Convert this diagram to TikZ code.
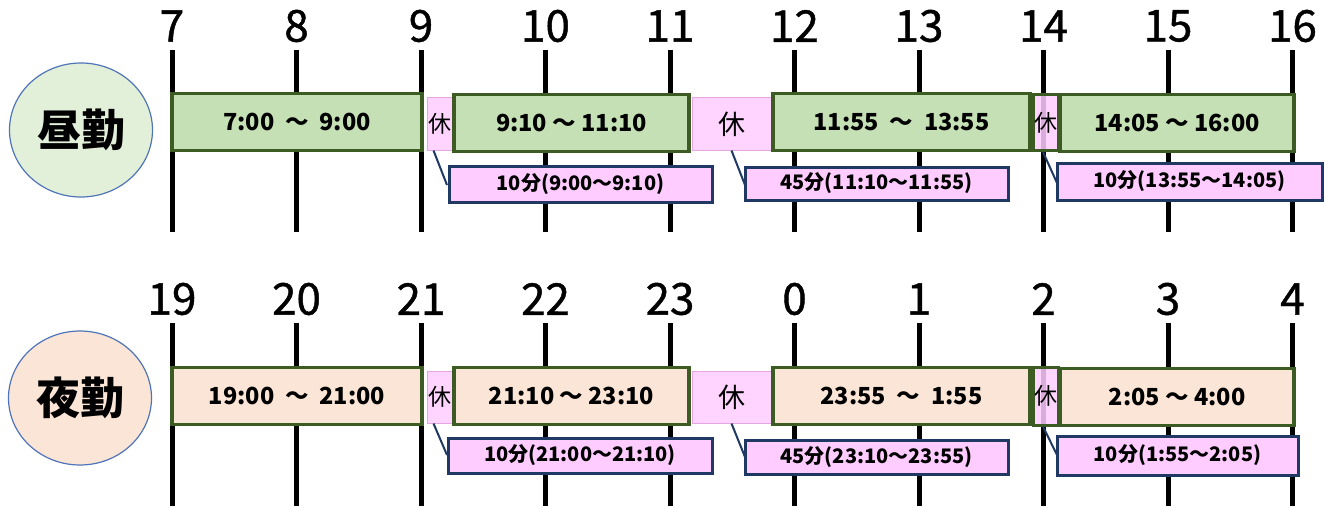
\documentclass[tikz,border=0pt]{standalone}
\usepackage{fontspec}
\setmainfont{Noto Sans CJK JP}
\newfontfamily\hourfont[FakeBold=1]{Noto Sans CJK JP}
\usetikzlibrary{shapes.geometric}

\definecolor{dayfill}{HTML}{C5E0B4}
\definecolor{nightfill}{HTML}{FBE5D6}
\definecolor{dayround}{HTML}{E2F0D9}
\definecolor{roundline}{HTML}{4F74B8}
\definecolor{shiftline}{HTML}{3D5C24}
\definecolor{restpink}{HTML}{FFCCFF}
\definecolor{restline}{HTML}{E6A6E6}
\definecolor{navy}{HTML}{1F3864}

\tikzset{
  hour/.style={font=\hourfont\fontsize{44}{44}\selectfont, inner sep=0},
  tick/.style={line width=5pt},
  shiftname/.style={ellipse, draw=roundline, line width=1.2pt, minimum width=143, minimum height=134,
    font=\fontsize{44}{44}\selectfont\bfseries},
  work/.style={draw=shiftline, line width=3.5pt, inner sep=0, minimum height=57,
    font=\fontsize{23.5}{24}\selectfont\bfseries},
  rest/.style={fill=restpink, fill opacity=0.85, text opacity=1, draw=restline, line width=1pt,
    inner sep=0, minimum height=52, font=\fontsize{23}{23}\selectfont},
  note/.style={fill=restpink, draw=navy, line width=3pt, inner sep=0,
    font=\fontsize{20}{20}\selectfont\bfseries},
  pointer/.style={draw=navy, line width=2pt}
}

\begin{document}
\begin{tikzpicture}[x=1pt, y=-1pt]
    \useasboundingbox (0,0) rectangle (1324,508);

    % hour lines
    \foreach \h [count=\i from 0] in {7,...,16} {
        \draw[tick] ({172+124.5*\i},50) -- ({172+124.5*\i},232);
        \node[hour] (d\h) at ({172+124.5*\i},26) {\h};
    }
    \foreach \h [count=\i from 0] in {19,20,21,22,23,0,1,2,3,4} {
        \draw[tick] ({172+124.5*\i},323) -- ({172+124.5*\i},506);
        \node[hour] (n\h) at ({172+124.5*\i},299) {\h};
    }

    % day shift
    \node[shiftname, fill=dayround] (day) at (81,130) {昼勤};
    \node[work, fill=dayfill, minimum width=250] (ds1) at (297,122) {7:00\ \ ～\ \ 9:00};
    \node[rest, minimum width=25] (db1) at (439.5,124) {休};
    \node[work, fill=dayfill, minimum width=235] (ds2) at (571.5,123) {9:10 ～ 11:10};
    \node[rest, minimum width=79, font=\fontsize{27}{27}\selectfont] (db2) at (731.5,124) {休};
    \node[work, fill=dayfill, minimum width=257] (ds3) at (901.5,122) {11:55\ \ ～\ \ 13:55};
    \node[rest, draw=shiftline, line width=3pt, minimum width=25, minimum height=56] (db3) at (1046,122.5) {休};
    \node[work, fill=dayfill, minimum width=234] (ds4) at (1177,123) {14:05 ～ 16:00};

    % day breaks
    \draw[pointer] ([xshift=-6pt]db1.south) -- (447,185);
    \draw[pointer] (db2.south) -- (745,185);
    \draw[pointer] ([xshift=-3pt]db3.south) -- (1057,183);
    \node[note, minimum width=263, minimum height=36] (dn1) at (580.5,184) {10分(9:00～9:10)\hspace{36pt}};
    \node[note, minimum width=263, minimum height=33] (dn2) at (876.5,183.5) {45分(11:10～11:55)\hspace{10pt}};
    \node[note, minimum width=265, minimum height=37] (dn3) at (1189.5,181.5) {10分(13:55～14:05)};

    % night shift
    \node[shiftname, fill=nightfill] (night) at (80,398) {夜勤};
    \node[work, fill=nightfill, minimum width=250] (ns1) at (297,396) {19:00\ \ ～\ \ 21:00};
    \node[rest, minimum width=25] (nb1) at (439.5,397) {休};
    \node[work, fill=nightfill, minimum width=235] (ns2) at (571.5,396) {21:10 ～ 23:10};
    \node[rest, minimum width=79, font=\fontsize{27}{27}\selectfont] (nb2) at (731.5,397) {休};
    \node[work, fill=nightfill, minimum width=257] (ns3) at (901.5,396) {23:55\ \ ～\ \ 1:55};
    \node[rest, draw=shiftline, line width=3pt, minimum width=25, minimum height=58] (nb3) at (1046,396) {休};
    \node[work, fill=nightfill, minimum width=234] (ns4) at (1177,397) {2:05 ～ 4:00};

    % night breaks
    \draw[pointer] ([xshift=-6pt]nb1.south) -- (447,455);
    \draw[pointer] (nb2.south) -- (745,457);
    \draw[pointer] ([xshift=-3pt]nb3.south) -- (1057,455);
    \node[note, minimum width=264, minimum height=35] (nn1) at (580,455.5) {10分(21:00～21:10)\hspace{16pt}};
    \node[note, minimum width=263, minimum height=34] (nn2) at (876.5,457) {45分(23:10～23:55)\hspace{10pt}};
    \node[note, minimum width=241, minimum height=39] (nn3) at (1177.5,455.5) {10分(1:55～2:05)};
\end{tikzpicture}
\end{document}
